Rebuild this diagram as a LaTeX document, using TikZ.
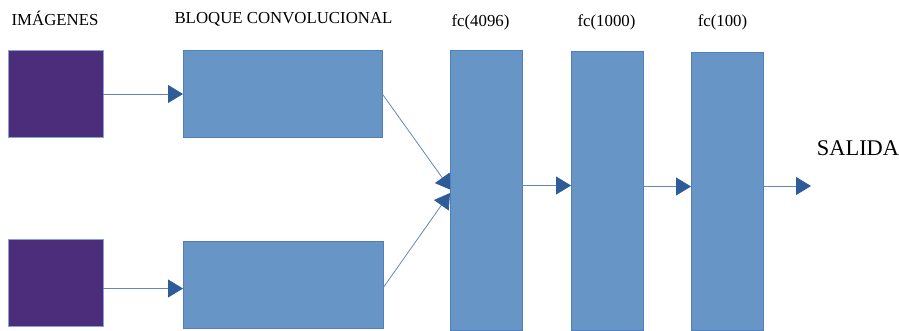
\documentclass[tikz,border=0pt]{standalone}
\usepackage{fontspec}
\setmainfont{Liberation Serif}
\usetikzlibrary{arrows.meta}
\definecolor{imgfill}{HTML}{4B2D7B}
\definecolor{blockfill}{HTML}{6795C6}
\definecolor{blockedge}{HTML}{4F7FBC}
\definecolor{linkcol}{HTML}{5F88C0}
\definecolor{tipcol}{HTML}{2E5C99}
\begin{document}
\begin{tikzpicture}[x=1pt,y=-1pt,
  imgbox/.style={rectangle,inner sep=0pt,outer sep=0pt,fill=imgfill,draw=blockedge!70,line width=0.6pt,minimum width=95pt,minimum height=87pt},
  layerbox/.style={rectangle,inner sep=0pt,outer sep=0pt,fill=blockfill,draw=blockedge,line width=0.6pt},
  link/.style={draw=linkcol,line width=0.8pt,-{Triangle[length=15pt,width=18pt,fill=tipcol,color=tipcol]}},
  caption/.style={inner sep=0pt,anchor=base,font=\fontsize{16.8}{20}\selectfont}]
\useasboundingbox (0,0) rectangle (899,330);

% input images
\node[imgbox] (img1) at (55.5,93.5) {};
\node[imgbox] (img2) at (55.5,282.5) {};

% convolutional blocks
\node[layerbox,minimum width=199pt,minimum height=87pt] (conv1) at (282.5,93.5) {};
\node[layerbox,minimum width=200pt,minimum height=87pt] (conv2) at (283,284.5) {};

% connections into the first dense layer (drawn below the layer)
\coordinate (in1) at (451,190);
\coordinate (in2) at (450,193);
\draw[link] (conv1.east) -- (in1);
\draw[link] (conv2.east |- 0,288) -- (in2);

% fully connected layers
\node[layerbox,minimum width=72pt,minimum height=280pt] (fc1) at (486,190) {};
\node[layerbox,minimum width=72pt,minimum height=279pt] (fc2) at (607,190.5) {};
\node[layerbox,minimum width=72pt,minimum height=278pt] (fc3) at (727,191) {};

% output point
\coordinate (out) at (811,186);

% remaining connections
\draw[link] (img1.east |- 0,94) -- (conv1.west |- 0,94);
\draw[link] (img2.east |- 0,288.5) -- (conv2.west |- 0,288.5);
\draw[link] (fc1.east |- 0,185.5) -- (fc2.west |- 0,185.5);
\draw[link] (fc2.east |- 0,186.5) -- (fc3.west |- 0,186.5);
\draw[link] (fc3.east |- out) -- (out);

% labels
\node[caption] (limg) at (55,25) {IMÁGENES};
\node[caption] (lconv) at (283.5,23.5) {BLOQUE CONVOLUCIONAL};
\node[caption] (lfc1) at (480.5,26.5) {fc(4096)};
\node[caption] (lfc2) at (606.5,26.5) {fc(1000)};
\node[caption] (lfc3) at (722.5,26.5) {fc(100)};
\node[caption,font=\fontsize{22.4}{26}\selectfont] (lout) at (858,155) {SALIDA};
\end{tikzpicture}
\end{document}
